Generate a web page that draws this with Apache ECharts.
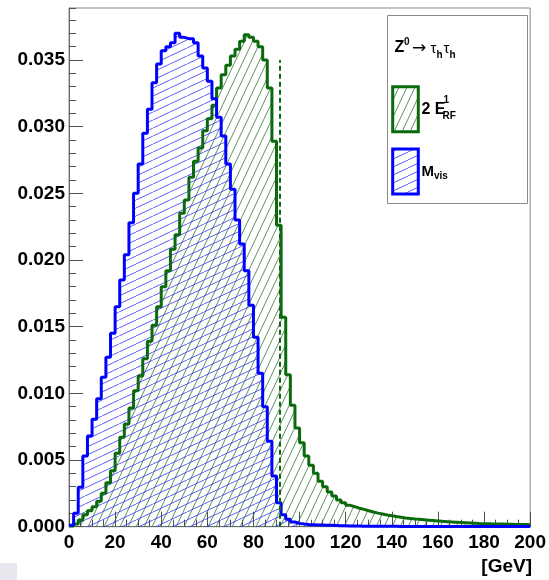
<!DOCTYPE html>
<html><head><meta charset="utf-8">
<script src="https://cdn.jsdelivr.net/npm/echarts@6/dist/echarts.min.js"></script>
<style>html,body{margin:0;padding:0;background:#fff}#c{width:549px;height:580px}</style>
</head><body><div id="c"></div>
<script>
// ---- data ----
const binLow = 0;
const binWidth = 2;
// 2 E_RF^1 histogram (green), 100 bins of 2 GeV
const eRF = [
  0.00005,0.0002,0.0005,0.0009,0.0012,0.0015,0.0019,0.0025,0.0033,0.0042,
  0.0055,0.0067,0.0077,0.0089,0.0102,0.0113,0.0126,0.0139,0.0151,0.0165,
  0.0180,0.0192,0.0208,0.0219,0.0235,0.0245,0.0262,0.0274,0.0284,0.0297,
  0.0306,0.0316,0.0329,0.0339,0.0346,0.0353,0.0358,0.0364,0.0369,0.0367,
  0.0364,0.0360,0.0350,0.0329,0.0289,0.0226,0.0157,0.0114,0.0091,0.0074,
  0.0063,0.0053,0.0046,0.0040,0.0034,0.0030,0.0026,0.0023,0.0020,0.0018,
  0.0016,0.0015,0.00138,0.0013,0.0012,0.0011,0.00102,0.00095,0.00088,0.00082,
  0.00076,0.00071,0.00066,0.00062,0.00058,0.00055,0.00052,0.00049,0.00046,0.00043,
  0.0004,0.00038,0.00036,0.00034,0.00032,0.0003,0.00028,0.00026,0.00024,0.00023,
  0.00022,0.00021,0.0002,0.0002,0.00019,0.00018,0.00017,0.00016,0.00016,0.00015
];
// M_vis histogram (blue)
const mVis = [
  0.0001,0.0010,0.00295,0.0053,0.0068,0.00805,0.0096,0.0112,0.0127,0.0145,
  0.0165,0.0185,0.0204,0.0228,0.0250,0.0272,0.0295,0.0313,0.0333,0.0347,
  0.0357,0.0360,0.0363,0.0370,0.0367,0.0366,0.0366,0.0363,0.0353,0.0344,
  0.0334,0.0321,0.0307,0.0293,0.0272,0.0253,0.0230,0.0212,0.0192,0.0166,
  0.0142,0.0115,0.0090,0.0064,0.0038,0.0018,0.0009,0.00055,0.00035,0.00025,
  0.0002,0.00017,0.00015,0.00013,0.00012,0.00011,0.0001,0.00009,0.00008,0.00007,
  0.00006,0.00005,0.00005,0.00004,0.00004,0.00003,0.00003,0.00003,0.00003,0.00003,
  0.00003,0.00002,0.00002,0.00002,0.00002,0.00002,0.00002,0.00002,0.00002,0.00002,
  0.00002,0.00002,0.00002,0.00001,0.00001,0.00001,0.00001,0.00001,0.00001,0.00001,
  0.00001,0.00001,0.00001,0.00001,0.00001,0.00001,0.00001,0.00001,0.00001,0.00001
];
const xMin = 0, xMax = 200, xStep = 20;
const yMin = 0, yMax = 0.0389, yStep = 0.005, yMinorStep = 0.001;
const zMass = 91.19, zLineTop = 0.035;
const xTitle = '[GeV]';

// ---- helpers ----
const FONT = '"Liberation Sans", Arial, Helvetica, sans-serif';
const GREEN = '#0b6a0b', BLUE = '#0000ff';
function hatch(w, h, color, lw) {
  const c = document.createElement('canvas');
  c.width = w; c.height = h;
  const ctx = c.getContext('2d');
  ctx.strokeStyle = color; ctx.lineWidth = lw;
  ctx.beginPath();
  for (const dx of [-w, 0, w]) { ctx.moveTo(dx, h); ctx.lineTo(dx + w, 0); }
  ctx.stroke();
  return { image: c, repeat: 'repeat' };
}
function toSteps(vals) {
  const pts = vals.map((v, i) => [binLow + i * binWidth, v]);
  pts.push([binLow + vals.length * binWidth, vals[vals.length - 1]]);
  return pts;
}
const greenHatch = hatch(8, 17, 'rgba(40,110,40,0.75)', 1);
const blueHatch = hatch(17, 8, 'rgba(40,40,255,0.75)', 1);
const greenPts = toSteps(eRF), bluePts = toSteps(mVis);

const chart = echarts.init(document.getElementById('c'), null, { renderer: 'canvas' });
const axisGrey = '#6a6a6a';
const tickGrey = '#505050';
chart.setOption({
  animation: false,
  grid: { left: 69, right: 16.5, top: 8, bottom: 53.3, show: true, borderColor: '#8a8a8a', borderWidth: 1, backgroundColor: 'transparent' },
  xAxis: {
    type: 'value', min: xMin, max: xMax, interval: xStep,
    axisLine: { show: true, onZero: false, lineStyle: { color: axisGrey, width: 1 } },
    axisTick: { show: true, inside: true, length: 15, lineStyle: { color: tickGrey } },
    minorTick: { show: true, splitNumber: 4, length: 7, lineStyle: { color: tickGrey } },
    axisLabel: { fontSize: 19, fontWeight: 'bold', color: '#000', fontFamily: FONT, margin: 7 },
    splitLine: { show: false }, minorSplitLine: { show: false }
  },
  yAxis: [{
    type: 'value', min: yMin, max: yMax, interval: yStep,
    axisLine: { show: true, onZero: false, lineStyle: { color: axisGrey, width: 1 } },
    axisTick: { show: true, inside: true, length: 14, lineStyle: { color: tickGrey } },
    axisLabel: { fontSize: 19, fontWeight: 'bold', color: '#000', fontFamily: FONT, margin: 4,
      showMaxLabel: false, formatter: v => v.toFixed(3) },
    splitLine: { show: false }
  }, {
    type: 'value', min: yMin, max: yMax, interval: yMinorStep, position: 'left',
    axisLine: { show: false },
    axisTick: { show: true, inside: true, length: 7, lineStyle: { color: tickGrey } },
    axisLabel: { show: false }, splitLine: { show: false }
  }],
  series: [
    { type: 'line', data: greenPts, step: 'end', symbol: 'none', z: 1,
      lineStyle: { opacity: 0 }, areaStyle: { color: greenHatch, opacity: 1 }, silent: true },
    { type: 'line', data: bluePts, step: 'end', symbol: 'none', z: 2,
      lineStyle: { opacity: 0 }, areaStyle: { color: blueHatch, opacity: 1 }, silent: true },
    { type: 'line', data: greenPts, step: 'end', symbol: 'none', z: 3,
      lineStyle: { color: GREEN, width: 3 }, silent: true,
      markLine: { silent: true, symbol: 'none', label: { show: false },
        lineStyle: { color: GREEN, width: 2, type: [5, 3] },
        data: [[{ coord: [zMass, 0] }, { coord: [zMass, zLineTop] }]] } },
    { type: 'line', data: bluePts, step: 'end', symbol: 'none', z: 4,
      lineStyle: { color: BLUE, width: 3 }, silent: true }
  ],
  graphic: [
    { type: 'rect', shape: { x: 0, y: 563, width: 17, height: 17 }, style: { fill: '#e8e8ee' }, silent: true },
    { type: 'text', style: { text: xTitle, x: 532, y: 567, textAlign: 'right', textVerticalAlign: 'middle',
        font: 'bold 19px ' + FONT, fill: '#000' } },
    { type: 'rect', shape: { x: 387.5, y: 15.5, width: 140, height: 188 },
      style: { fill: '#fff', stroke: '#8a8a8a', lineWidth: 1 }, z: 100 },
    { type: 'text', z: 101, style: { text: 'Z', x: 394.5, y: 48, textVerticalAlign: 'middle', font: 'bold 16px ' + FONT, fill: '#000' } },
    { type: 'text', z: 101, style: { text: '0', x: 404, y: 42.5, textVerticalAlign: 'middle', font: 'bold 10px ' + FONT, fill: '#000' } },
    { type: 'text', z: 101, style: { text: '\u2192', x: 412, y: 49, textVerticalAlign: 'middle', font: '17px "DejaVu Sans", sans-serif', fill: '#000' } },
    { type: 'text', z: 101, style: { text: '\u03c4', x: 430.5, y: 48.5, textVerticalAlign: 'middle', font: '15px ' + FONT, fill: '#000' } },
    { type: 'text', z: 101, style: { text: 'h', x: 436.5, y: 55, textVerticalAlign: 'middle', font: 'bold 10px ' + FONT, fill: '#000' } },
    { type: 'text', z: 101, style: { text: '\u03c4', x: 443.5, y: 48.5, textVerticalAlign: 'middle', font: '15px ' + FONT, fill: '#000' } },
    { type: 'text', z: 101, style: { text: 'h', x: 449.5, y: 55, textVerticalAlign: 'middle', font: 'bold 10px ' + FONT, fill: '#000' } },
    { type: 'rect', z: 101, shape: { x: 392.7, y: 86.7, width: 25.6, height: 45 },
      style: { fill: greenHatch, stroke: GREEN, lineWidth: 3 } },
    { type: 'text', z: 101, style: { text: '2 E', x: 421.5, y: 109.5, textVerticalAlign: 'middle', font: 'bold 16px ' + FONT, fill: '#000' } },
    { type: 'text', z: 101, style: { text: '1', x: 443.5, y: 100, textVerticalAlign: 'middle', font: 'bold 10px ' + FONT, fill: '#000' } },
    { type: 'text', z: 101, style: { text: 'RF', x: 442.5, y: 116.5, textVerticalAlign: 'middle', font: 'bold 10px ' + FONT, fill: '#000' } },
    { type: 'rect', z: 101, shape: { x: 392.7, y: 149, width: 25.6, height: 45 },
      style: { fill: blueHatch, stroke: BLUE, lineWidth: 3 } },
    { type: 'text', z: 101, style: { text: 'M', x: 421.5, y: 171.5, textVerticalAlign: 'middle', font: 'bold 15px ' + FONT, fill: '#000' } },
    { type: 'text', z: 101, style: { text: 'vis', x: 434, y: 176.5, textVerticalAlign: 'middle', font: 'bold 10px ' + FONT, fill: '#000' } }
  ]
});
</script></body></html>
